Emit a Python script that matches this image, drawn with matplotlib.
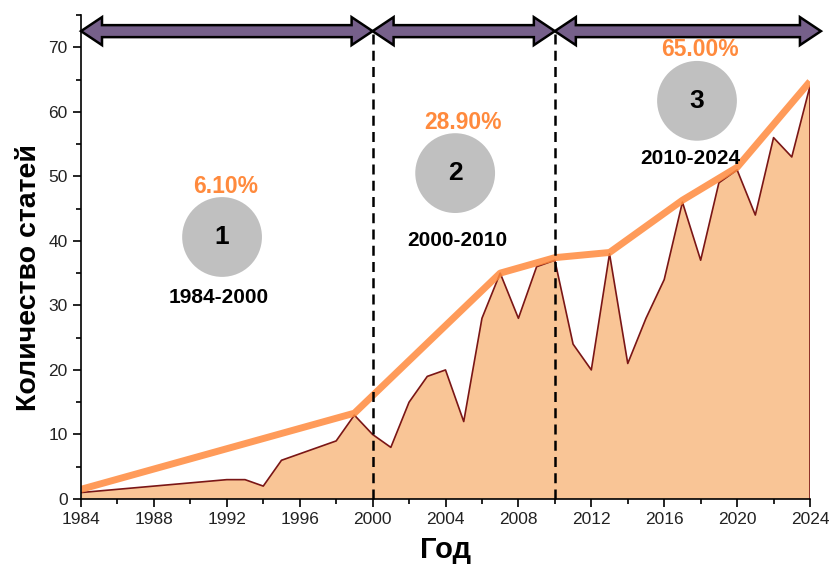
import matplotlib
matplotlib.use("Agg")
import matplotlib.pyplot as plt
from matplotlib.patches import Polygon
from matplotlib.ticker import MultipleLocator
import numpy as np

plt.rcParams['font.family'] = ['Liberation Sans', 'DejaVu Sans']

years = [1984, 1992, 1993, 1994, 1995, 1996, 1997, 1998, 1999, 2000,
         2001, 2002, 2003, 2004, 2005, 2006, 2007, 2008, 2009, 2010,
         2011, 2012, 2013, 2014, 2015, 2016, 2017, 2018, 2019, 2020,
         2021, 2022, 2023, 2024]
counts = [1, 3, 3, 2, 6, 7, 8, 9, 13, 10,
          8, 15, 19, 20, 12, 28, 35, 28, 36, 37,
          24, 20, 38, 21, 28, 34, 46, 37, 49, 51,
          44, 56, 53, 64]

trend_years = [1984, 1999, 2007, 2010, 2013, 2017, 2020, 2024]
trend_counts = [1.5, 13.3, 35.0, 37.4, 38.2, 46.3, 51.4, 64.7]

period_bounds = [1984, 2000, 2010, 2024.6]
period_labels = ['1984-2000', '2000-2010', '2010-2024']
period_numbers = ['1', '2', '3']
period_shares = ['6.10%', '28.90%', '65.00%']
circle_pos = [(1991.74, 40.6), (2004.53, 50.5), (2017.8, 61.7)]
share_pos = [(1991.96, 48.5), (2004.97, 58.4), (2017.97, 69.6)]
label_pos = [(1991.57, 31.3), (2004.64, 40.0), (2017.42, 52.8)]
dividers = [2000, 2010]

FILL = '#F9C596'
EDGE = '#7A1616'
ORANGE = '#FF8A3D'
PURPLE = '#76608A'

fig = plt.figure(figsize=(8.31, 5.64), dpi=100)
ax = fig.add_axes([81/831, 65/564, 729/831, 484/564])
ax.set_xlim(1984, 2024)
ax.set_ylim(0, 75)

ax.fill_between(years, counts, 0, facecolor=FILL, edgecolor='none', zorder=1)
ax.plot(years + [years[-1]], counts + [0], color=EDGE, lw=1.2, zorder=2)
ax.plot(trend_years, trend_counts, color=ORANGE, lw=5.0, alpha=0.85,
        solid_capstyle='butt', zorder=3)

for d in dividers:
    ax.plot([d, d], [0, 72.5], color='black', lw=1.8, ls=(0, (4, 2.5)), zorder=4,
            clip_on=False)

# double arrows
fig.canvas.draw()
def px2data(px, py):
    return ax.transData.inverted().transform((px, py))

def double_arrow(x0, x1, yc):
    p0 = ax.transData.transform((x0, yc))
    p1 = ax.transData.transform((x1, yc))
    hl, hh, bh = 21, 14, 6
    X0, X1, Y = p0[0], p1[0], p0[1]
    pts = [(X0, Y), (X0 + hl, Y + hh), (X0 + hl, Y + bh), (X1 - hl, Y + bh),
           (X1 - hl, Y + hh), (X1, Y), (X1 - hl, Y - hh), (X1 - hl, Y - bh),
           (X0 + hl, Y - bh), (X0 + hl, Y - hh)]
    pts = [px2data(*p) for p in pts]
    poly = Polygon(pts, closed=True, facecolor=PURPLE, edgecolor='black',
                   lw=1.8, joinstyle='miter', zorder=6, clip_on=False)
    ax.add_patch(poly)

for i in range(3):
    double_arrow(period_bounds[i], period_bounds[i + 1], 72.5)

for i in range(3):
    cx, cy = circle_pos[i]
    ax.scatter([cx], [cy], s=3300, color='#C0C0C0', edgecolors='none', zorder=5)
    ax.text(cx, cy, period_numbers[i], ha='center', va='center', fontsize=19,
            fontweight='bold', color='black', zorder=7)
    sx, sy = share_pos[i]
    ax.text(sx, sy, period_shares[i], ha='center', va='center', fontsize=16.5,
            fontweight='bold', color=ORANGE, zorder=7)
    lx, ly = label_pos[i]
    ax.text(lx, ly, period_labels[i], ha='center', va='center', fontsize=15,
            fontweight='bold', color='black', zorder=7)

for s in ['top', 'right']:
    ax.spines[s].set_visible(False)
for s in ['left', 'bottom']:
    ax.spines[s].set_linewidth(1.2)
    ax.spines[s].set_zorder(8)

ax.xaxis.set_major_locator(MultipleLocator(4))
ax.xaxis.set_minor_locator(MultipleLocator(2))
ax.yaxis.set_major_locator(MultipleLocator(10))
ax.yaxis.set_minor_locator(MultipleLocator(5))
ax.set_yticks(list(range(0, 71, 10)))
ax.tick_params(which='major', direction='out', length=6, width=1.2,
               labelsize=12.5, colors='black', labelcolor='#222222')
ax.tick_params(which='minor', direction='out', length=3.5, width=1.2)

ax.set_xlabel('Год', fontsize=21, fontweight='bold', labelpad=6)
ax.set_ylabel('Количество статей', fontsize=20.5, fontweight='bold')
ax.yaxis.set_label_coords(-0.053, 0.457)

fig.savefig('out.png', dpi=100)
